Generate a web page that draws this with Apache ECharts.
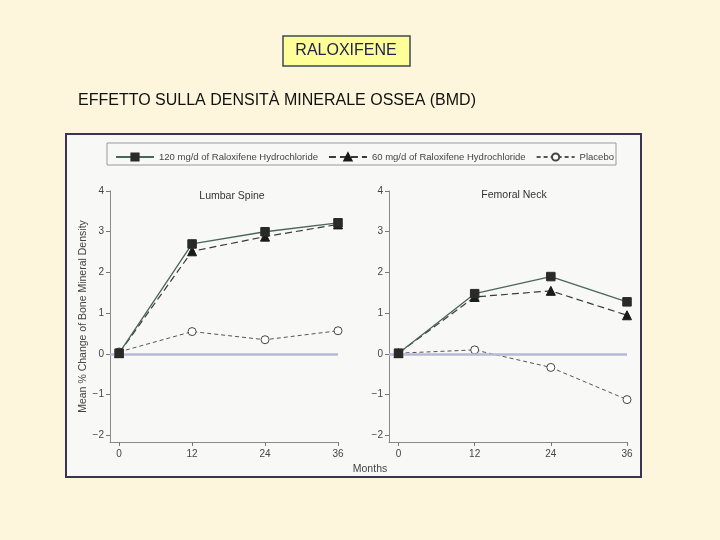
<!DOCTYPE html>
<html><head><meta charset="utf-8">
<script src="https://cdn.jsdelivr.net/npm/echarts@6/dist/echarts.min.js"></script>
<style>html,body{margin:0;padding:0;background:#fdf5dc;}#c{width:720px;height:540px;}</style>
</head><body><div id="c"></div>
<script>
const months = [0, 12, 24, 36];
const seriesNames = ['120 mg/d of Raloxifene Hydrochloride', '60 mg/d of Raloxifene Hydrochloride', 'Placebo'];
const lumbar120 = [0.02, 2.7, 3.0, 3.22];
const lumbar60 = [0.02, 2.52, 2.88, 3.18];
const lumbarPlacebo = [0.05, 0.55, 0.35, 0.57];
const femoral120 = [0.02, 1.48, 1.9, 1.28];
const femoral60 = [0.02, 1.4, 1.55, 0.95];
const femoralPlacebo = [0.02, 0.1, -0.33, -1.12];
const yTicks = [-2, -1, 0, 1, 2, 3, 4];
const xTicks = [0, 12, 24, 36];
const panelTitles = ['Lumbar Spine', 'Femoral Neck'];

const F = 'Liberation Sans, Arial, sans-serif';
const pair = v => v.map((y, i) => [months[i], y]);
const styles = [
  {color: '#4a6658', type: 'solid', width: 1.3, symbol: 'rect', size: 8.5, fill: '#2a2a2a', border: '#2a2a2a'},
  {color: '#3a3a3a', type: [7, 4], width: 1.2, symbol: 'triangle', size: 9, fill: '#1a1a1a', border: '#1a1a1a'},
  {color: '#555555', type: [4, 3], width: 1, symbol: 'circle', size: 8, fill: '#ffffff', border: '#444444'}
];
function mk(name, data, gi, si) {
  const s = styles[si];
  return {
    name: name, type: 'line', xAxisIndex: gi, yAxisIndex: gi, data: pair(data),
    symbol: s.symbol, symbolSize: s.size, z: 3 + (2 - si),
    lineStyle: {color: s.color, type: s.type, width: s.width},
    itemStyle: {color: s.fill, borderColor: s.border, borderWidth: 1}
  };
}
function xAx(gi) {
  return {
    type: 'value', gridIndex: gi, min: -1.5, max: 36,
    axisLine: {show: true, onZero: false, lineStyle: {color: '#8a8a8a', width: 1}},
    axisTick: {show: true, length: 4, lineStyle: {color: '#777'}, customValues: xTicks},
    axisLabel: {color: '#444', fontFamily: F, fontSize: 10, margin: 7, customValues: xTicks},
    splitLine: {show: false}
  };
}
function yAx(gi, withName) {
  return {
    type: 'value', gridIndex: gi, min: -2.16, max: 4,
    name: withName ? 'Mean % Change of Bone Mineral Density' : '',
    nameLocation: 'middle', nameRotate: 90, nameGap: 18,
    nameTextStyle: {color: '#444', fontFamily: F, fontSize: 10.5},
    axisLine: {show: true, onZero: false, lineStyle: {color: '#8a8a8a', width: 1}},
    axisTick: {show: true, length: 4, lineStyle: {color: '#777'}, customValues: yTicks},
    axisLabel: {color: '#444', fontFamily: F, fontSize: 10, margin: 6, customValues: yTicks,
      formatter: v => (v < 0 ? '\u2212' + Math.abs(v) : String(v))},
    splitLine: {show: false}
  };
}
function zero(gi) {
  return {type: 'line', xAxisIndex: gi, yAxisIndex: gi, data: [], z: 1, silent: true,
    markLine: {silent: true, symbol: 'none', label: {show: false},
      lineStyle: {color: '#b9b8d6', type: 'solid', width: 2.5}, data: [{yAxis: 0}]}};
}
const chart = echarts.init(document.getElementById('c'), null, {renderer: 'canvas'});
chart.setOption({
  backgroundColor: '#fdf5dc',
  animation: false,
  graphic: [
    {type: 'rect', shape: {x: 66, y: 134, width: 575, height: 343}, style: {fill: '#f8f8f6', stroke: '#3b3352', lineWidth: 2}, z: -10},
    {type: 'rect', shape: {x: 107, y: 143, width: 509, height: 22}, style: {fill: '#f8f8f6', stroke: '#9a9a9a', lineWidth: 1}, z: -5},
    {type: 'rect', shape: {x: 283, y: 36, width: 127, height: 30}, style: {fill: '#ffff99', stroke: '#3b4a5a', lineWidth: 1.5}},
    {type: 'text', x: 346, y: 51, style: {text: 'RALOXIFENE', fill: '#22224a', font: '16px ' + F, textAlign: 'center', textVerticalAlign: 'middle'}},
    {type: 'text', x: 78, y: 101, style: {text: 'EFFETTO SULLA DENSITÀ MINERALE OSSEA (BMD)', fill: '#111', font: '16px ' + F, textAlign: 'left', textVerticalAlign: 'middle'}},
    {type: 'text', x: 370, y: 469, style: {text: 'Months', fill: '#444', font: '10.5px ' + F, textAlign: 'center', textVerticalAlign: 'middle'}}
  ],
  title: [
    {text: panelTitles[0], left: 227, top: 186, textAlign: 'center', textStyle: {fontFamily: F, fontSize: 10.5, fontWeight: 'normal', color: '#333'}},
    {text: panelTitles[1], left: 509, top: 185, textAlign: 'center', textStyle: {fontFamily: F, fontSize: 10.5, fontWeight: 'normal', color: '#333'}}
  ],
  legend: {
    data: seriesNames, left: 110, top: 147, itemGap: 10, itemWidth: 38, itemHeight: 9,
    textStyle: {fontFamily: F, fontSize: 9.5, color: '#444'}, selectedMode: false
  },
  grid: [
    {left: 110, top: 191, width: 228, height: 251},
    {left: 389, top: 191, width: 238, height: 251}
  ],
  xAxis: [xAx(0), xAx(1)],
  yAxis: [yAx(0, true), yAx(1, false)],
  series: [
    zero(0), zero(1),
    mk(seriesNames[0], lumbar120, 0, 0),
    mk(seriesNames[1], lumbar60, 0, 1),
    mk(seriesNames[2], lumbarPlacebo, 0, 2),
    mk(seriesNames[0], femoral120, 1, 0),
    mk(seriesNames[1], femoral60, 1, 1),
    mk(seriesNames[2], femoralPlacebo, 1, 2)
  ]
});
</script></body></html>
